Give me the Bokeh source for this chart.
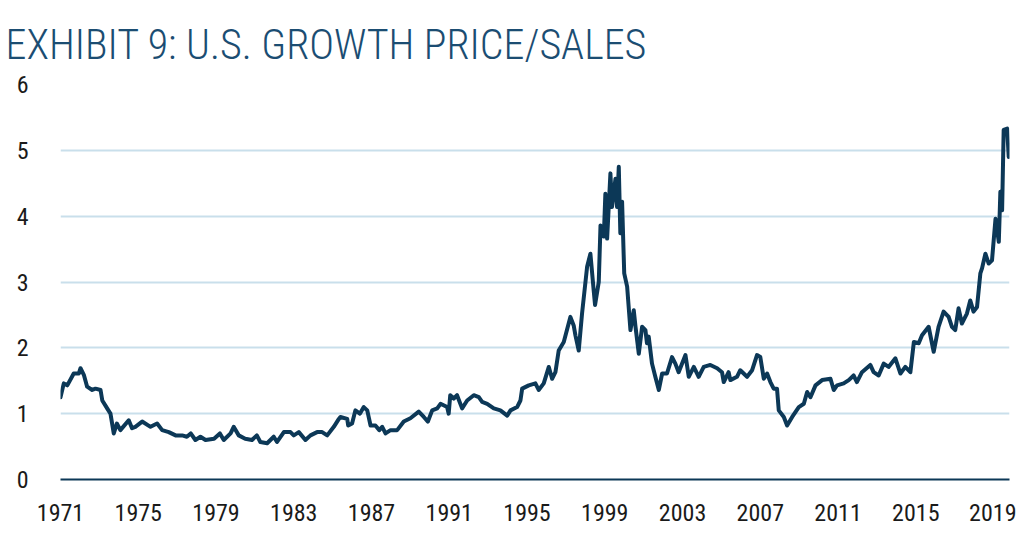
from bokeh.plotting import figure
from bokeh.models import FixedTicker, Range1d, Title
from bokeh.embed import file_html
from bokeh.resources import INLINE

title_text = "EXHIBIT 9: U.S. GROWTH PRICE/SALES"
x_ticks = [1971, 1975, 1979, 1983, 1987, 1991, 1995, 1999, 2003, 2007, 2011, 2015, 2019]
y_ticks = [0, 1, 2, 3, 4, 5, 6]

years = [
    1971.0, 1971.17, 1971.35, 1971.68, 1971.94, 1972.03, 1972.2, 1972.37, 1972.63, 1972.8,
    1973.06, 1973.15, 1973.4, 1973.57, 1973.74, 1973.9, 1974.08, 1974.51, 1974.68, 1974.85,
    1975.2, 1975.63, 1975.97, 1976.23, 1976.57, 1976.92, 1977.26, 1977.5, 1977.7, 1977.94,
    1978.2, 1978.46, 1978.9, 1979.2, 1979.4, 1979.75, 1979.91, 1980.17, 1980.5, 1980.85,
    1981.1, 1981.28, 1981.63, 1981.97, 1982.14, 1982.49, 1982.83, 1983.0, 1983.26, 1983.6,
    1983.86, 1984.2, 1984.46, 1984.72, 1985.06, 1985.32, 1985.4, 1985.75, 1985.8, 1986.0,
    1986.17, 1986.4, 1986.6, 1986.78, 1986.95, 1987.2, 1987.4, 1987.55, 1987.72, 1987.98,
    1988.32, 1988.66, 1989.0, 1989.43, 1989.69, 1989.9, 1990.12, 1990.38, 1990.55, 1990.89,
    1990.97, 1991.05, 1991.23, 1991.4, 1991.66, 1991.92, 1992.26, 1992.52, 1992.69, 1992.95,
    1993.29, 1993.63, 1993.98, 1994.15, 1994.49, 1994.66, 1994.75, 1995.09, 1995.43, 1995.6,
    1995.86, 1996.12, 1996.29, 1996.46, 1996.63, 1996.89, 1997.23, 1997.4, 1997.49, 1997.66,
    1997.83, 1998.09, 1998.26, 1998.43, 1998.5, 1998.69, 1998.78, 1998.95, 1999.03, 1999.12,
    1999.29, 1999.37, 1999.55, 1999.63, 1999.72, 1999.8, 1999.89, 2000.0, 2000.15, 2000.32,
    2000.49, 2000.58, 2000.75, 2000.92, 2001.09, 2001.17, 2001.26, 2001.43, 2001.6, 2001.78,
    2001.95, 2002.2, 2002.46, 2002.63, 2002.8, 2003.15, 2003.32, 2003.58, 2003.83, 2004.09,
    2004.43, 2004.78, 2005.03, 2005.12, 2005.37, 2005.46, 2005.8, 2005.97, 2006.32, 2006.58,
    2006.83, 2007.0, 2007.18, 2007.35, 2007.52, 2007.69, 2007.86, 2007.95, 2008.21, 2008.38,
    2008.64, 2008.98, 2009.24, 2009.41, 2009.58, 2009.84, 2010.18, 2010.61, 2010.78, 2010.95,
    2011.29, 2011.55, 2011.8, 2011.97, 2012.23, 2012.66, 2012.83, 2013.09, 2013.35, 2013.6,
    2013.95, 2014.21, 2014.46, 2014.72, 2014.9, 2015.15, 2015.32, 2015.66, 2015.92, 2016.17,
    2016.43, 2016.69, 2016.86, 2017.03, 2017.2, 2017.37, 2017.63, 2017.8, 2017.97, 2018.15,
    2018.32, 2018.41, 2018.58, 2018.75, 2018.92, 2019.1, 2019.27, 2019.35, 2019.44, 2019.52,
    2019.7, 2019.78,
]
ps_ratio = [
    1.25, 1.46, 1.43, 1.61, 1.61, 1.69, 1.59, 1.41, 1.36, 1.38,
    1.36, 1.20, 1.08, 1.00, 0.70, 0.85, 0.75, 0.90, 0.78, 0.80,
    0.88, 0.80, 0.85, 0.75, 0.72, 0.67, 0.67, 0.65, 0.70, 0.60,
    0.65, 0.60, 0.62, 0.70, 0.60, 0.70, 0.80, 0.67, 0.62, 0.60,
    0.67, 0.57, 0.55, 0.65, 0.57, 0.72, 0.72, 0.67, 0.72, 0.60,
    0.67, 0.72, 0.72, 0.67, 0.80, 0.92, 0.95, 0.92, 0.82, 0.85,
    1.05, 1.00, 1.10, 1.05, 0.82, 0.82, 0.75, 0.80, 0.70, 0.75,
    0.75, 0.88, 0.93, 1.03, 0.95, 0.88, 1.05, 1.08, 1.15, 1.10,
    1.00, 1.28, 1.23, 1.28, 1.08, 1.20, 1.28, 1.25, 1.18, 1.15,
    1.08, 1.05, 0.97, 1.05, 1.10, 1.20, 1.38, 1.43, 1.46, 1.36,
    1.46, 1.71, 1.53, 1.63, 1.96, 2.09, 2.47, 2.34, 2.19, 1.96,
    2.52, 3.23, 3.43, 2.87, 2.65, 3.00, 3.86, 3.69, 4.34, 3.66,
    4.65, 4.14, 4.57, 4.14, 4.75, 3.74, 4.22, 3.13, 2.93, 2.27,
    2.57, 2.32, 1.91, 2.32, 2.27, 2.07, 2.17, 1.76, 1.56, 1.36,
    1.61, 1.61, 1.86, 1.76, 1.63, 1.89, 1.56, 1.71, 1.56, 1.71,
    1.74, 1.69, 1.63, 1.48, 1.63, 1.51, 1.56, 1.66, 1.56, 1.66,
    1.89, 1.86, 1.53, 1.61, 1.48, 1.38, 1.38, 1.05, 0.95, 0.82,
    0.95, 1.10, 1.15, 1.33, 1.25, 1.43, 1.51, 1.53, 1.36, 1.43,
    1.46, 1.51, 1.58, 1.48, 1.63, 1.74, 1.63, 1.58, 1.76, 1.71,
    1.84, 1.61, 1.71, 1.63, 2.09, 2.07, 2.19, 2.32, 1.94, 2.32,
    2.55, 2.47, 2.32, 2.27, 2.60, 2.37, 2.52, 2.72, 2.55, 2.62,
    3.13, 3.21, 3.43, 3.28, 3.33, 3.96, 3.61, 4.37, 4.09, 5.31,
    5.33, 4.90,
]

NAVY = "#0c3857"
COND = "'Roboto Condensed', 'Liberation Sans Narrow', 'DejaVu Sans Condensed', Roboto"

p = figure(width=1016, height=525, output_backend="svg", toolbar_location=None,
           x_range=Range1d(1971, 2019.82), y_range=Range1d(0, 6),
           min_border_left=60, min_border_right=7, min_border_top=84, min_border_bottom=46)
p.outline_line_color = None
p.background_fill_color = "white"
p.border_fill_color = "white"

t = Title(text=title_text, align="left", offset=-55,
          text_font="'Roboto Condensed Light', " + COND,
          text_font_size="42px", text_font_style="normal", text_color="#1b4d72",
          standoff=31)
p.add_layout(t, "above")

p.line(years, ps_ratio, line_color=NAVY, line_width=4, line_join="round", line_cap="round")

p.xgrid.grid_line_color = None
p.ygrid.grid_line_color = "#c9dfeb"
p.ygrid.grid_line_width = 2

p.xaxis.ticker = FixedTicker(ticks=x_ticks)
p.yaxis.ticker = FixedTicker(ticks=y_ticks)
for ax in (p.xaxis[0], p.yaxis[0]):
    ax.major_tick_line_color = None
    ax.minor_tick_line_color = None
    ax.major_label_text_font = COND
    ax.major_label_text_font_size = "24px"
    ax.major_label_text_color = "#1a1a1a"
p.yaxis.axis_line_color = None
p.yaxis.major_label_standoff = 26
p.xaxis.axis_line_color = NAVY
p.xaxis.axis_line_width = 2
p.xaxis.major_label_standoff = 18

open("out.html", "w").write(file_html(p, INLINE))
